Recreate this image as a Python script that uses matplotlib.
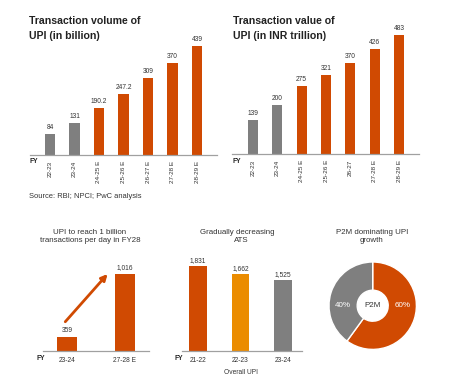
import matplotlib
matplotlib.use("Agg")
import matplotlib.pyplot as plt

plt.rcParams['font.family'] = ['Liberation Sans', 'DejaVu Sans']

W, H = 452, 385
ORANGE = '#D04A02'
GRAY = '#7F7F7F'
AMBER = '#EB8C00'
TXT = '#333333'
AXC = '#A0A0A0'

# ---- data ----
vol_years = ['22-23', '23-24', '24-25 E', '25-26 E', '26-27 E', '27-28 E', '28-29 E']
vol_values = [84, 131, 190.2, 247.2, 309, 370, 439]
vol_labels = ['84', '131', '190.2', '247.2', '309', '370', '439']

val_years = ['22-23', '23-24', '24-25 E', '25-26 E', '26-27', '27-28 E', '28-29 E']
val_values = [139, 200, 275, 321, 370, 426, 483]
val_labels = ['139', '200', '275', '321', '370', '426', '483']

daily_years = ['23-24', '27-28 E']
daily_values = [359, 1016]
daily_labels = ['359', '1,016']

ats_years = ['21-22', '22-23', '23-24']
ats_values = [1831, 1662, 1525]
ats_labels = ['1,831', '1,662', '1,525']

p2m_shares = [60, 40]
p2m_labels = ['60%', '40%']

fig = plt.figure(figsize=(W / 100, H / 100), dpi=100)


def add_ax(l, t, r, b):
    return fig.add_axes([l / W, 1 - b / H, (r - l) / W, (b - t) / H])


def ftext(x, y, s, **kw):
    fig.text(x / W, 1 - y / H, s, **kw)


def style(ax):
    for s in ['top', 'right', 'left']:
        ax.spines[s].set_visible(False)
    ax.spines['bottom'].set_color(AXC)
    ax.spines['bottom'].set_linewidth(0.9)
    ax.set_yticks([])
    ax.tick_params(axis='x', length=0, colors=TXT)
    ax.patch.set_alpha(0)


def top_panel(ax, cats, vals, labels, ylim_top, xl, xr):
    colors = [GRAY, GRAY] + [ORANGE] * (len(vals) - 2)
    x = range(len(vals))
    ax.bar(x, vals, width=0.41, color=colors)
    for xi, v, lab in zip(x, vals, labels):
        ax.text(xi, v + ylim_top * 0.025, lab, ha='center', va='bottom',
                fontsize=4.8, color=TXT)
    ax.set_xlim(xl, xr)
    ax.set_ylim(0, ylim_top)
    ax.set_xticks(list(x))
    ax.set_xticklabels(cats, rotation=90, fontsize=4.6, va='top')
    ax.tick_params(axis='x', pad=4)
    style(ax)


# ---- panel 1: volume ----
ax1 = add_ax(30, 40, 217, 155)
top_panel(ax1, vol_years, vol_values, vol_labels, 115 / 0.248, -0.816, 6.816)
ftext(29, 21, 'Transaction volume of', fontsize=7.6, fontweight='bold', color='#222222', va='center')
ftext(29, 36, 'UPI (in billion)', fontsize=7.6, fontweight='bold', color='#222222', va='center')
ftext(30, 162, 'FY', fontsize=4.8, fontweight='bold', color='#222222', va='center')
ftext(29, 197, 'Source: RBI; NPCI; PwC analysis', fontsize=5.4, color=TXT, va='center')

# ---- panel 2: value ----
ax2 = add_ax(232, 30, 419, 154)
top_panel(ax2, val_years, val_values, val_labels, 124 / 0.246, -0.863, 6.82)
ftext(233, 21, 'Transaction value of', fontsize=7.6, fontweight='bold', color='#222222', va='center')
ftext(233, 36, 'UPI (in INR trillion)', fontsize=7.6, fontweight='bold', color='#222222', va='center')
ftext(233, 162, 'FY', fontsize=4.8, fontweight='bold', color='#222222', va='center')

# ---- panel 3: daily transactions ----
ax3 = add_ax(43, 260, 149, 351)
v0 = 213
ax3.bar(range(2), daily_values, width=0.345, color=ORANGE, bottom=0)
ax3.set_ylim(v0, v0 + 91 / 0.0959)
ax3.set_xlim(-0.414, 1.414)
for xi, v, lab in zip(range(2), daily_values, daily_labels):
    ax3.text(xi, v + 30, lab, ha='center', va='bottom', fontsize=4.8, color=TXT)
ax3.set_xticks(range(2))
ax3.set_xticklabels(daily_years, fontsize=4.8)
ax3.tick_params(axis='x', pad=4)
style(ax3)
ax3.annotate('', xy=(0.7, 1016), xytext=(-0.03, 518),
             arrowprops=dict(arrowstyle='-|>', color=ORANGE, lw=2.0,
                             mutation_scale=9, shrinkA=0, shrinkB=0))
ftext(90, 232, 'UPI to reach 1 billion', fontsize=5.7, color=TXT, ha='center', va='center')
ftext(90, 241, 'transactions per day in FY28', fontsize=5.7, color=TXT, ha='center', va='center')
ftext(37, 358, 'FY', fontsize=4.8, fontweight='bold', color='#222222', va='center')

# ---- panel 4: ATS ----
ax4 = add_ax(182, 255, 302, 351)
ax4.bar(range(3), ats_values, width=0.42, color=[ORANGE, AMBER, GRAY])
ax4.set_ylim(0, 96 / 0.0464)
ax4.set_xlim(-0.376, 2.447)
for xi, v, lab in zip(range(3), ats_values, ats_labels):
    ax4.text(xi, v + 50, lab, ha='center', va='bottom', fontsize=4.8, color=TXT)
ax4.set_xticks(range(3))
ax4.set_xticklabels(ats_years, fontsize=4.8)
ax4.tick_params(axis='x', pad=4)
style(ax4)
ftext(237, 232, 'Gradually decreasing', fontsize=5.7, color=TXT, ha='center', va='center')
ftext(241, 241, 'ATS', fontsize=5.7, color=TXT, ha='center', va='center')
ftext(241, 372, 'Overall UPI', fontsize=4.8, color=TXT, ha='center', va='center')
ftext(175, 358, 'FY', fontsize=4.8, fontweight='bold', color='#222222', va='center')

# ---- panel 5: donut ----
R = 43.7
ax5 = add_ax(372.7 - R, 305.7 - R, 372.7 + R, 305.7 + R)
wedges, _ = ax5.pie(p2m_shares, colors=[ORANGE, GRAY], startangle=90, counterclock=False,
                    radius=1, wedgeprops=dict(width=0.645, edgecolor='white', linewidth=1.0))
ax5.set_xlim(-1, 1)
ax5.set_ylim(-1, 1)
ax5.text(0.68, 0.0, p2m_labels[0], ha='center', va='center', fontsize=5.8, color='white')
ax5.text(-0.68, 0.0, p2m_labels[1], ha='center', va='center', fontsize=5.8, color='white')
ax5.text(0, 0, 'P2M', ha='center', va='center', fontsize=5.8, color=TXT)
ftext(372, 232, 'P2M dominating UPI', fontsize=5.7, color=TXT, ha='center', va='center')
ftext(372, 241, 'growth', fontsize=5.7, color=TXT, ha='center', va='center')

fig.savefig('out.png', dpi=100)
